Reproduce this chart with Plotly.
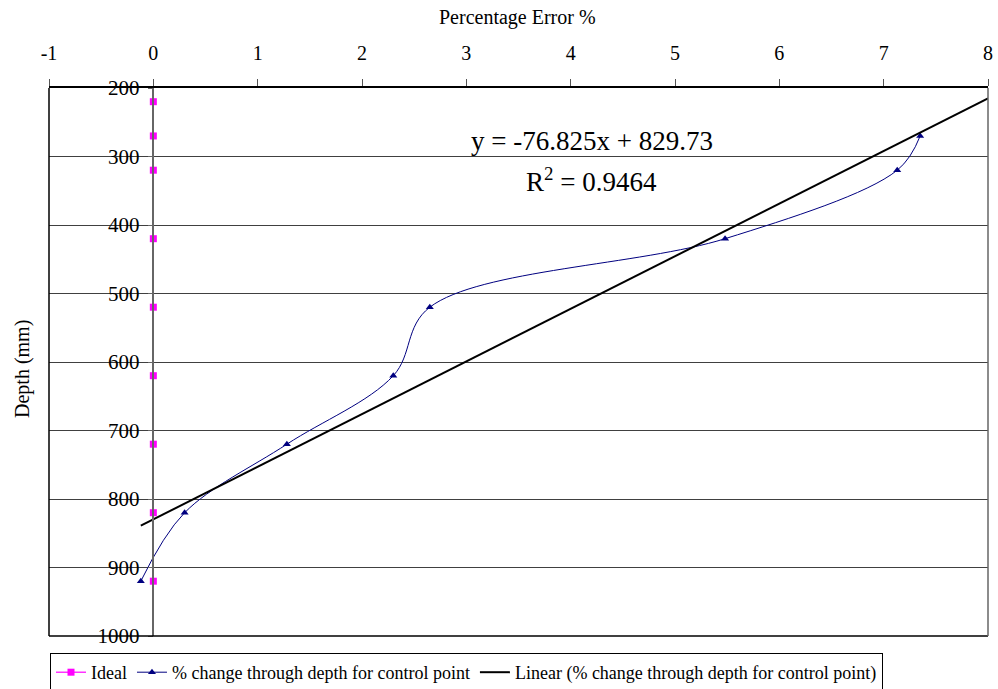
import plotly.graph_objects as go

# ---- data ----
ideal_x = [0, 0, 0, 0, 0, 0, 0, 0, 0]
ideal_depth = [220, 270, 320, 420, 520, 620, 720, 820, 920]

ctrl_pct = [7.35, 7.13, 5.48, 2.65, 2.30, 1.28, 0.30, -0.12]
ctrl_depth = [270, 320, 420, 520, 620, 720, 820, 920]

slope = -76.825
intercept = 829.73
r2 = 0.9464
trend_x = [min(ctrl_pct), 8]
trend_y = [slope * x + intercept for x in trend_x]

x_ticks = [-1, 0, 1, 2, 3, 4, 5, 6, 7, 8]
x_tick_text = ["-1", "0", "1", "2", "3", "4", "5", "6", "7", "8"]
y_ticks = [200, 300, 400, 500, 600, 700, 800, 900, 1000]

FONT = "'Liberation Serif', 'DejaVu Serif', serif"

W, H = 998, 689
TOP, LEFT, RIGHT = 88, 49, 10
PLOT_BOTTOM = 636
paper_h = H - TOP
plot_w = W - LEFT - RIGHT
plot_h = PLOT_BOTTOM - TOP

fig = go.Figure()
fig.add_trace(go.Scatter(
    x=ideal_x, y=ideal_depth, mode="lines+markers", name="Ideal",
    line=dict(color="#FF00FF", width=1.2),
    marker=dict(symbol="square", size=7, color="#FF00FF"),
))
fig.add_trace(go.Scatter(
    x=ctrl_pct, y=ctrl_depth, mode="lines+markers",
    name="% change through depth for control point",
    line=dict(color="#000080", width=1, shape="spline", smoothing=1),
    marker=dict(symbol="triangle-up", size=7, color="#000080"),
))
fig.add_trace(go.Scatter(
    x=trend_x, y=trend_y, mode="lines",
    name="Linear (% change through depth for control point)",
    line=dict(color="black", width=2),
))

fig.update_layout(
    width=W, height=H,
    margin=dict(l=LEFT, r=RIGHT, t=TOP, b=0, autoexpand=False),
    plot_bgcolor="white", paper_bgcolor="white",
    font=dict(family=FONT, size=20, color="black"),
    xaxis=dict(
        side="top", range=[-1, 8], tickvals=x_ticks, ticktext=x_tick_text,
        showgrid=False, zeroline=False,
        showline=True, linecolor="black", linewidth=1.5,
        ticks="outside", ticklen=7, tickcolor="#555",
        ticklabelstandoff=11,
        tickfont=dict(family=FONT, size=20),
    ),
    yaxis=dict(
        range=[1000, 200], tickvals=y_ticks,
        domain=[(H - PLOT_BOTTOM) / paper_h, 1],
        anchor="free", position=(0 - (-1)) / 9,
        showgrid=True, gridcolor="#404040", gridwidth=1,
        zeroline=False,
        showline=True, linecolor="#666", linewidth=1.5,
        ticks="outside", ticklen=5, tickcolor="#666",
        ticklabelstandoff=4,
        tickfont=dict(family=FONT, size=21),
    ),
    showlegend=True,
    legend=dict(
        orientation="h",
        x=1 / plot_w, y=(H - 653) / paper_h, xanchor="left", yanchor="top",
        bordercolor="black", borderwidth=1,
        font=dict(family=FONT, size=18), itemwidth=30, tracegroupgap=0,
        bgcolor="white",
    ),
    shapes=[
        dict(type="line", xref="x domain", yref="y domain", x0=0, x1=0, y0=0, y1=1,
             line=dict(color="black", width=1.5)),
        dict(type="line", xref="x domain", yref="y domain", x0=0, x1=1, y0=0, y1=0,
             line=dict(color="black", width=1.5)),
        dict(type="line", xref="x domain", yref="y domain", x0=1, x1=1, y0=0, y1=1,
             line=dict(color="#666", width=1.5)),
    ],
    annotations=[
        dict(text="Percentage Error %", xref="x domain", yref="y domain",
             x=(517 - LEFT) / plot_w, y=1 + (TOP - 17) / plot_h, xanchor="center", yanchor="middle",
             showarrow=False, font=dict(family=FONT, size=20)),
        dict(text="Depth (mm)", xref="x domain", yref="y domain",
             x=-(LEFT - 22) / plot_w, y=(PLOT_BOTTOM - 369) / plot_h, xanchor="center", yanchor="middle",
             textangle=-90, showarrow=False, font=dict(family=FONT, size=20)),
        dict(text=f"y = {slope}x + {intercept}", xref="x", yref="y",
             x=4.2, y=277, xanchor="center", yanchor="middle",
             showarrow=False, font=dict(family=FONT, size=27)),
        dict(text=f"R<sup>2</sup> = {r2}", xref="x", yref="y",
             x=4.2, y=335, xanchor="center", yanchor="middle",
             showarrow=False, font=dict(family=FONT, size=27)),
    ],
)

fig.write_html("out.html")
